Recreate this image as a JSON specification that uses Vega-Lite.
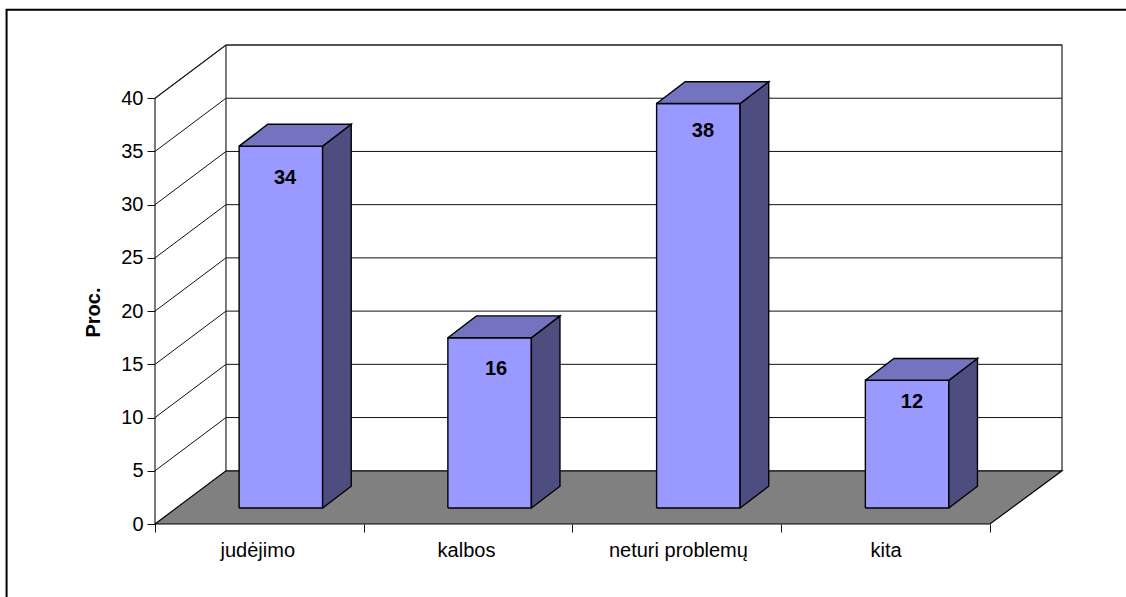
{
"$schema":"https://vega.github.io/schema/vega-lite/v6.json",
"width":907,"height":479,
"autosize":{"type":"none"},
"padding":{"left":155,"top":45,"right":64,"bottom":73},
"background":"white",
"view":{"stroke":null},
"config":{"font":"Liberation Sans"},
"datasets":{
"frame":[{"o":1,"x":-0.711,"y":-7},{"o":2,"x":-0.711,"y":48.3},{"o":3,"x":4.66,"y":48.3}],
"walls":[
{"p":"outer","o":1,"x":0,"y":0},{"p":"outer","o":2,"x":0,"y":40},{"p":"outer","o":3,"x":0.34,"y":45},{"p":"outer","o":4,"x":4.345,"y":45},{"p":"outer","o":5,"x":4.345,"y":5},
{"p":"inner","o":1,"x":0.34,"y":5},{"p":"inner","o":2,"x":0.34,"y":45}
],
"grid":[
{"l":5,"o":1,"x":0,"y":5},{"l":5,"o":2,"x":0.34,"y":10},{"l":5,"o":3,"x":4.345,"y":10},
{"l":10,"o":1,"x":0,"y":10},{"l":10,"o":2,"x":0.34,"y":15},{"l":10,"o":3,"x":4.345,"y":15},
{"l":15,"o":1,"x":0,"y":15},{"l":15,"o":2,"x":0.34,"y":20},{"l":15,"o":3,"x":4.345,"y":20},
{"l":20,"o":1,"x":0,"y":20},{"l":20,"o":2,"x":0.34,"y":25},{"l":20,"o":3,"x":4.345,"y":25},
{"l":25,"o":1,"x":0,"y":25},{"l":25,"o":2,"x":0.34,"y":30},{"l":25,"o":3,"x":4.345,"y":30},
{"l":30,"o":1,"x":0,"y":30},{"l":30,"o":2,"x":0.34,"y":35},{"l":30,"o":3,"x":4.345,"y":35},
{"l":35,"o":1,"x":0,"y":35},{"l":35,"o":2,"x":0.34,"y":40},{"l":35,"o":3,"x":4.345,"y":40},
{"l":40,"o":1,"x":0,"y":40},{"l":40,"o":2,"x":0.34,"y":45},{"l":40,"o":3,"x":4.345,"y":45}
],
"floor":[{"o":1,"x":0,"y":0},{"o":2,"x":0.34,"y":5},{"o":3,"x":4.345,"y":5},{"o":4,"x":4,"y":0},{"o":5,"x":0,"y":0}],
"faces":[
{"bar":"judėjimo","face":"front","o":1,"x":0.403,"y":1.5},{"bar":"judėjimo","face":"front","o":2,"x":0.803,"y":1.5},{"bar":"judėjimo","face":"front","o":3,"x":0.803,"y":35.5},{"bar":"judėjimo","face":"front","o":4,"x":0.403,"y":35.5},{"bar":"judėjimo","face":"front","o":5,"x":0.403,"y":1.5},
{"bar":"judėjimo","face":"side","o":1,"x":0.803,"y":1.5},{"bar":"judėjimo","face":"side","o":2,"x":0.94,"y":3.55},{"bar":"judėjimo","face":"side","o":3,"x":0.94,"y":37.55},{"bar":"judėjimo","face":"side","o":4,"x":0.803,"y":35.5},{"bar":"judėjimo","face":"side","o":5,"x":0.803,"y":1.5},
{"bar":"judėjimo","face":"top","o":1,"x":0.403,"y":35.5},{"bar":"judėjimo","face":"top","o":2,"x":0.803,"y":35.5},{"bar":"judėjimo","face":"top","o":3,"x":0.94,"y":37.55},{"bar":"judėjimo","face":"top","o":4,"x":0.54,"y":37.55},{"bar":"judėjimo","face":"top","o":5,"x":0.403,"y":35.5},
{"bar":"kalbos","face":"front","o":1,"x":1.403,"y":1.5},{"bar":"kalbos","face":"front","o":2,"x":1.803,"y":1.5},{"bar":"kalbos","face":"front","o":3,"x":1.803,"y":17.5},{"bar":"kalbos","face":"front","o":4,"x":1.403,"y":17.5},{"bar":"kalbos","face":"front","o":5,"x":1.403,"y":1.5},
{"bar":"kalbos","face":"side","o":1,"x":1.803,"y":1.5},{"bar":"kalbos","face":"side","o":2,"x":1.94,"y":3.55},{"bar":"kalbos","face":"side","o":3,"x":1.94,"y":19.55},{"bar":"kalbos","face":"side","o":4,"x":1.803,"y":17.5},{"bar":"kalbos","face":"side","o":5,"x":1.803,"y":1.5},
{"bar":"kalbos","face":"top","o":1,"x":1.403,"y":17.5},{"bar":"kalbos","face":"top","o":2,"x":1.803,"y":17.5},{"bar":"kalbos","face":"top","o":3,"x":1.94,"y":19.55},{"bar":"kalbos","face":"top","o":4,"x":1.54,"y":19.55},{"bar":"kalbos","face":"top","o":5,"x":1.403,"y":17.5},
{"bar":"neturi problemų","face":"front","o":1,"x":2.403,"y":1.5},{"bar":"neturi problemų","face":"front","o":2,"x":2.803,"y":1.5},{"bar":"neturi problemų","face":"front","o":3,"x":2.803,"y":39.5},{"bar":"neturi problemų","face":"front","o":4,"x":2.403,"y":39.5},{"bar":"neturi problemų","face":"front","o":5,"x":2.403,"y":1.5},
{"bar":"neturi problemų","face":"side","o":1,"x":2.803,"y":1.5},{"bar":"neturi problemų","face":"side","o":2,"x":2.94,"y":3.55},{"bar":"neturi problemų","face":"side","o":3,"x":2.94,"y":41.55},{"bar":"neturi problemų","face":"side","o":4,"x":2.803,"y":39.5},{"bar":"neturi problemų","face":"side","o":5,"x":2.803,"y":1.5},
{"bar":"neturi problemų","face":"top","o":1,"x":2.403,"y":39.5},{"bar":"neturi problemų","face":"top","o":2,"x":2.803,"y":39.5},{"bar":"neturi problemų","face":"top","o":3,"x":2.94,"y":41.55},{"bar":"neturi problemų","face":"top","o":4,"x":2.54,"y":41.55},{"bar":"neturi problemų","face":"top","o":5,"x":2.403,"y":39.5},
{"bar":"kita","face":"front","o":1,"x":3.403,"y":1.5},{"bar":"kita","face":"front","o":2,"x":3.803,"y":1.5},{"bar":"kita","face":"front","o":3,"x":3.803,"y":13.5},{"bar":"kita","face":"front","o":4,"x":3.403,"y":13.5},{"bar":"kita","face":"front","o":5,"x":3.403,"y":1.5},
{"bar":"kita","face":"side","o":1,"x":3.803,"y":1.5},{"bar":"kita","face":"side","o":2,"x":3.94,"y":3.55},{"bar":"kita","face":"side","o":3,"x":3.94,"y":15.55},{"bar":"kita","face":"side","o":4,"x":3.803,"y":13.5},{"bar":"kita","face":"side","o":5,"x":3.803,"y":1.5},
{"bar":"kita","face":"top","o":1,"x":3.403,"y":13.5},{"bar":"kita","face":"top","o":2,"x":3.803,"y":13.5},{"bar":"kita","face":"top","o":3,"x":3.94,"y":15.55},{"bar":"kita","face":"top","o":4,"x":3.54,"y":15.55},{"bar":"kita","face":"top","o":5,"x":3.403,"y":13.5}
],
"labels":[
{"category":"judėjimo","value":34,"x":0.623,"y":32.55},
{"category":"kalbos","value":16,"x":1.634,"y":14.6},
{"category":"neturi problemų","value":38,"x":2.625,"y":36.9},
{"category":"kita","value":12,"x":3.626,"y":11.43}
]
},
"layer":[
{"data":{"name":"frame"},
 "mark":{"type":"line","stroke":"#000","strokeWidth":2,"clip":false},
 "encoding":{
  "x":{"field":"x","type":"quantitative","scale":{"domain":[0,4.345],"nice":false,"zero":false},
   "axis":{"title":null,"grid":false,"domain":false,"values":[0,0.49,1,1.49,2,2.505,3,3.5,4],"tickSize":8,"tickColor":"#111",
    "tickOpacity":{"condition":{"test":"datum.value % 1 == 0","value":1},"value":0},
    "labelExpr":"datum.value==0.49?'judėjimo':datum.value==1.49?'kalbos':datum.value==2.505?'neturi problemų':datum.value==3.5?'kita':''",
    "labelFont":"Liberation Sans","labelFontSize":20,"labelColor":"#000","labelPadding":8,"labelOverlap":false,"labelFlush":false,"labelBound":false}},
  "y":{"field":"y","type":"quantitative","scale":{"domain":[0,45],"nice":false,"zero":false},
   "axis":{"title":"Proc.","grid":false,"domain":false,"values":[0,5,10,15,20,25,30,35,40],"tickSize":8,"tickColor":"#111",
    "labelFont":"Liberation Sans","labelFontSize":20,"labelColor":"#000","labelPadding":4,"labelOverlap":false,"labelFlush":false,"labelBound":false,
    "titleFont":"Liberation Sans","titleFontSize":20,"titleFontWeight":"bold","titleColor":"#000","titleX":-62,"titleY":267,"titleAngle":270,"titleAlign":"center","titleBaseline":"middle"}},
  "order":{"field":"o","type":"quantitative"}}},
{"data":{"name":"grid"},
 "mark":{"type":"line","stroke":"#111","strokeWidth":1},
 "encoding":{"x":{"field":"x","type":"quantitative"},"y":{"field":"y","type":"quantitative"},"detail":{"field":"l"},"order":{"field":"o","type":"quantitative"}}},
{"data":{"name":"walls"},
 "mark":{"type":"line","stroke":"#222","strokeWidth":1.2},
 "encoding":{"x":{"field":"x","type":"quantitative"},"y":{"field":"y","type":"quantitative"},"detail":{"field":"p"},"order":{"field":"o","type":"quantitative"}}},
{"data":{"name":"floor"},
 "mark":{"type":"line","stroke":"#000","strokeWidth":1.2,"fill":"#808080"},
 "encoding":{"x":{"field":"x","type":"quantitative"},"y":{"field":"y","type":"quantitative"},"order":{"field":"o","type":"quantitative"}}},
{"data":{"name":"faces"},
 "mark":{"type":"line","stroke":"#000","strokeWidth":1.4},
 "encoding":{"x":{"field":"x","type":"quantitative"},"y":{"field":"y","type":"quantitative"},"detail":{"field":"bar"},
  "fill":{"field":"face","type":"nominal","scale":{"domain":["front","side","top"],"range":["#9999FF","#4D4D80","#7373BF"]},"legend":null},
  "order":{"field":"o","type":"quantitative"}}},
{"data":{"name":"labels"},
 "mark":{"type":"text","font":"Liberation Sans","fontSize":20,"fontWeight":"bold","fill":"#000","align":"center","baseline":"middle"},
 "encoding":{"x":{"field":"x","type":"quantitative"},"y":{"field":"y","type":"quantitative"},"text":{"field":"value","type":"quantitative"}}}
]
}
